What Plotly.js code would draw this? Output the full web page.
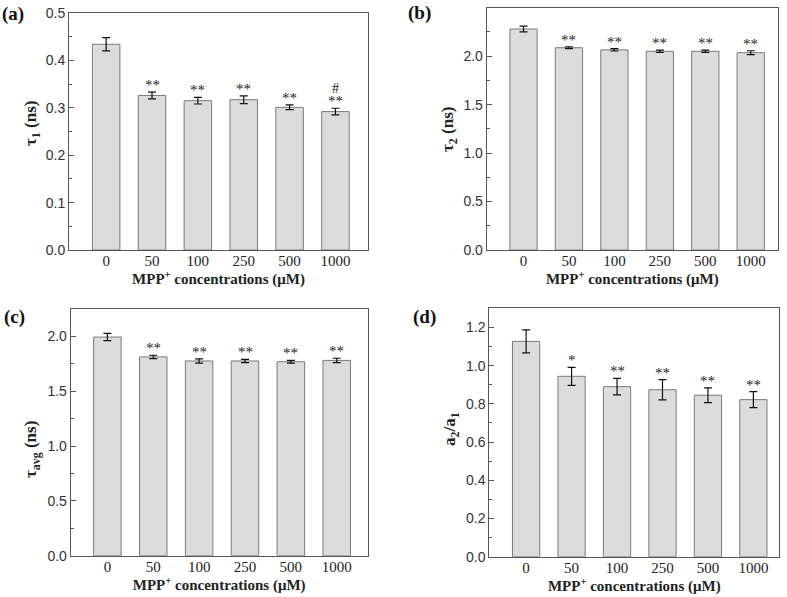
<!DOCTYPE html>
<html>
<head>
<meta charset="utf-8">
<script src="https://cdn.plot.ly/plotly-3.0.1.min.js"></script>
<style>html,body{margin:0;padding:0;background:#fff;}#chart{width:787px;height:597px;}</style>
</head>
<body>
<div id="chart"></div>
<script>
const categories = ['0', '50', '100', '250', '500', '1000'];

const tau1 = [0.434, 0.326, 0.315, 0.317, 0.301, 0.292];
const tau1Err = [0.014, 0.007, 0.007, 0.008, 0.005, 0.007];
const tau1Sig = ['', '**', '**', '**', '**', '**'];
const tau1Hash = ['', '', '', '', '', '#'];

const tau2 = [2.28, 2.087, 2.065, 2.05, 2.05, 2.036];
const tau2Err = [0.03, 0.01, 0.012, 0.012, 0.012, 0.02];
const tau2Sig = ['', '**', '**', '**', '**', '**'];

const tauAvg = [1.994, 1.813, 1.776, 1.776, 1.769, 1.781];
const tauAvgErr = [0.033, 0.015, 0.02, 0.015, 0.012, 0.02];
const tauAvgSig = ['', '**', '**', '**', '**', '**'];

const ratio = [1.127, 0.944, 0.89, 0.874, 0.845, 0.822];
const ratioErr = [0.06, 0.047, 0.043, 0.053, 0.039, 0.042];
const ratioSig = ['', '*', '**', '**', '**', '**'];

const noHash = ['', '', '', '', '', ''];

const panels = [
  {id: '', vals: tau1, err: tau1Err, sig: tau1Sig, hash: tau1Hash, title: '<b>τ<sub>1</sub> (ns)</b>', label: '(a)',
   x: [69, 368], y: [13, 250], range: [0, 0.5], dtick: 0.1, xr: [-0.81, 5.71], lx: 0, ly: 14, tx: 32, ty: 124},
  {id: '2', vals: tau2, err: tau2Err, sig: tau2Sig, hash: noHash, title: '<b>τ<sub>2</sub> (ns)</b>', label: '(b)',
   x: [486.7, 778], y: [7.7, 250], range: [0, 2.5], dtick: 0.5, xr: [-0.81, 5.6], lx: 406, ly: 13, tx: 449, ty: 130},
  {id: '3', vals: tauAvg, err: tauAvgErr, sig: tauAvgSig, hash: noHash, title: '<b>τ<sub>avg</sub> (ns)</b>', label: '(c)',
   x: [70.7, 367.7], y: [309, 555.7], range: [0, 2.25], dtick: 0.5, xr: [-0.8, 5.675], lx: 2, ly: 317, tx: 32, ty: 450},
  {id: '4', vals: ratio, err: ratioErr, sig: ratioSig, hash: noHash, title: '<b>a<sub>2</sub>/a<sub>1</sub></b>', label: '(d)',
   x: [489.3, 779.3], y: [308.3, 556.7], range: [0, 1.3], dtick: 0.2, xr: [-0.81, 5.57], lx: 411, ly: 317, tx: 451, ty: 429}
];

const W = 787, H = 597;
const data = [];
const layout = {
  width: W, height: H, margin: {l: 0, r: 0, t: 0, b: 0},
  paper_bgcolor: '#fff', plot_bgcolor: '#fff', showlegend: false,
  annotations: []
};
const serif = '"Liberation Serif", "Times New Roman", serif';
const sans = '"Liberation Sans", Arial, sans-serif';

panels.forEach(p => {
  const xa = 'x' + p.id, ya = 'y' + p.id;
  data.push({
    type: 'bar', x: categories, y: p.vals, xaxis: xa, yaxis: ya, width: 0.6,
    marker: {color: '#dcdcdc', line: {color: '#7a7a7a', width: 1}},
    error_y: {type: 'data', array: p.err, visible: true, color: '#111', thickness: 1.2, width: 4}
  });
  layout['xaxis' + p.id] = {
    domain: [p.x[0] / W, p.x[1] / W], anchor: ya, type: 'category', range: p.xr,
    showline: true, linecolor: '#555', linewidth: 1, mirror: true, ticks: '', showgrid: false,
    tickfont: {family: serif, size: 15, color: '#222'}, ticklabelstandoff: -3,
    title: {text: '<b>MPP<sup>+</sup> concentrations (μM)</b>', font: {family: serif, size: 15, color: '#222'}, standoff: 0}
  };
  layout['yaxis' + p.id] = {
    domain: [(H - p.y[1]) / H, (H - p.y[0]) / H], anchor: xa, range: p.range, dtick: p.dtick,
    tickformat: '.1f', showline: true, linecolor: '#555', linewidth: 1, mirror: true,
    ticks: 'inside', ticklen: 5, tickcolor: '#555', showgrid: false, zeroline: false,
    minor: {dtick: p.dtick / 2, ticks: 'inside', ticklen: 3, tickcolor: '#555'},
    tickfont: {family: sans, size: 14, color: '#333'}
  };
  categories.forEach((c, i) => {
    if (p.sig[i]) {
      layout.annotations.push({
        xref: xa, yref: ya, x: i, y: p.vals[i] + p.err[i], text: p.sig[i],
        showarrow: false, yanchor: 'bottom', yshift: -3,
        font: {family: serif, size: 15, color: '#222'}
      });
    }
    if (p.hash[i]) {
      layout.annotations.push({
        xref: xa, yref: ya, x: i, y: p.vals[i] + p.err[i], text: p.hash[i],
        showarrow: false, yanchor: 'bottom', yshift: 10,
        font: {family: serif, size: 14, color: '#222'}
      });
    }
  });
  layout.annotations.push({
    xref: 'paper', yref: 'paper', x: p.tx / W, y: (H - p.ty) / H, xanchor: 'center', yanchor: 'middle',
    textangle: -90, text: p.title, showarrow: false, font: {family: serif, size: 17, color: '#222'}
  });
  layout.annotations.push({
    xref: 'paper', yref: 'paper', x: p.lx / W, y: (H - p.ly) / H, xanchor: 'left', yanchor: 'middle',
    text: '<b>' + p.label + '</b>', showarrow: false, font: {family: serif, size: 19, color: '#111'}
  });
});

Plotly.newPlot('chart', data, layout, {staticPlot: true});
</script>
</body>
</html>
